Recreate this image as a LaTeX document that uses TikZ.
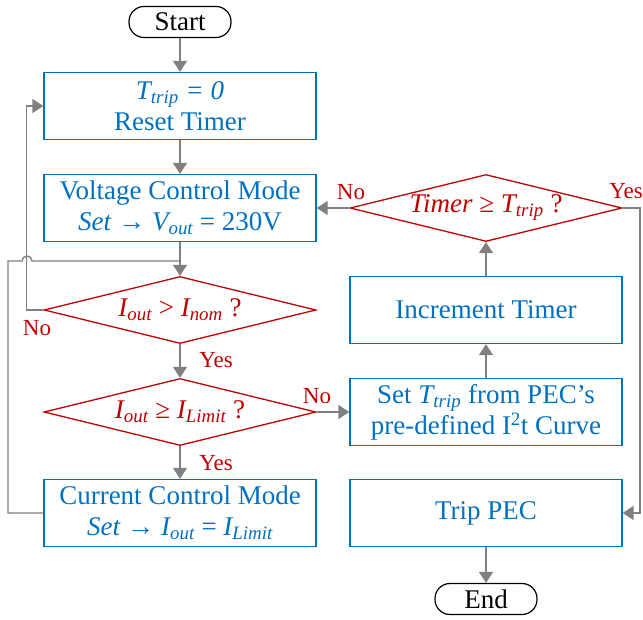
\documentclass[tikz,border=0pt]{standalone}
\usepackage{fontspec}
\setmainfont{Liberation Serif}
\usepackage{tikz}
\usetikzlibrary{
    arrows.meta,
    positioning,
    shapes.geometric
}
\definecolor{BoxBlue}{RGB}{0,112,192}
\definecolor{AskRed}{RGB}{192,0,0}
\definecolor{LinkGray}{RGB}{128,128,128}
\newcommand{\subit}[1]{\textsubscript{\itshape #1}}

\begin{document}
\begin{tikzpicture}[
    x=1pt,y=1pt,
    font=\fontsize{27}{31}\selectfont,
    terminal/.style={
        draw=black,
        line width=1.2pt,
        rounded corners=15pt,
        minimum width=102pt,
        minimum height=31pt,
        inner sep=0pt
    },
    procbox/.style={
        draw=BoxBlue,
        text=BoxBlue,
        line width=1.3pt,
        minimum width=272pt,
        minimum height=67pt,
        align=center,
        inner sep=0pt
    },
    decision/.style={
        diamond,
        draw=AskRed,
        text=AskRed,
        line width=1.3pt,
        aspect=4,
        minimum width=272pt,
        minimum height=67pt,
        inner sep=0pt
    },
    link/.style={
        draw=LinkGray,
        line width=1.4pt,
        -{Triangle[width=14pt,length=11pt]}
    },
    plainlink/.style={
        draw=LinkGray,
        line width=1.4pt
    },
    answer/.style={
        text=AskRed,
        font=\fontsize{23}{27}\selectfont,
        inner sep=0pt
    }
]
%
    \useasboundingbox (0,0) rectangle (643,619);
%
    % left column
    \node[terminal] (start) at (180,597) {Start};
    \node[procbox] (reset) at (180,513) {\textit{T\subit{trip} = 0}\\Reset Timer};
    \node[procbox] (volt) at (180,411) {Voltage Control Mode\\\textit{Set} → \textit{V\subit{out}} = 230V};
    \node[decision] (nomq) at (180,309) {\textit{I\subit{out}} > \textit{I\subit{nom}} ?};
    \node[decision] (limq) at (180,207) {\textit{I\subit{out}} ≥ \textit{I\subit{Limit}} ?};
    \node[procbox] (curr) at (180,106) {Current Control Mode\\\textit{Set} → \textit{I\subit{out}} = \textit{I\subit{Limit}}};
%
    % right column
    \node[decision] (timq) at (486,411) {\textit{Timer} ≥ \textit{T\subit{trip}} ?};
    \node[procbox] (incr) at (486,309) {Increment Timer};
    \node[procbox] (sett) at (486,207) {Set \textit{T\subit{trip}} from PEC’s\\pre-defined I\textsuperscript{2}t Curve};
    \node[procbox] (trip) at (486,106) {Trip PEC};
    \node[terminal] (end) at (486,20) {End};
%
    \coordinate (join) at (180,358);
    \coordinate (yesrail) at (640,411);
%
    \draw[link] (start) -- (reset);
    \draw[link] (reset) -- (volt);
    \draw[link] (volt) -- (nomq);
    \draw[link] (nomq) -- (limq);
    \draw[link] (limq) -- (curr);
    \draw[link] (nomq.west) -- ++(-17,0) |- (reset.west);
    \draw[plainlink] (curr.west) -- (8,106) -- (8,358) -- (22,358)
        arc[start angle=180,end angle=0,radius=5] -- (join);
    \draw[link] (limq.east) -- (sett.west);
    \draw[link] (sett) -- (incr);
    \draw[link] (incr) -- (timq);
    \draw[link] (timq.west) -- (volt.east);
    \draw[link] (timq.east) -- (yesrail) |- (trip.east);
    \draw[link] (trip) -- (end);
%
    \node[answer] (no1) at (37,291) {No};
    \node[answer] (yes1) at (216,259) {Yes};
    \node[answer] (no2) at (317,223) {No};
    \node[answer] (yes2) at (216,156) {Yes};
    \node[answer] (no3) at (351,427) {No};
    \node[answer] (yes3) at (626,428) {Yes};
%
\end{tikzpicture}
\end{document}
